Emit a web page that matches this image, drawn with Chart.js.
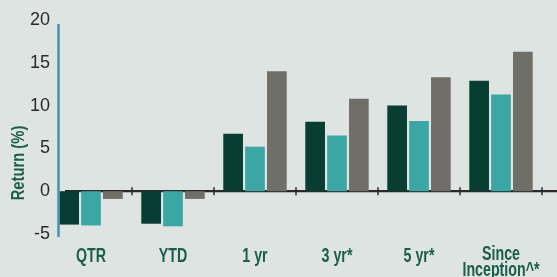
<!DOCTYPE html>
<html>
<head>
<meta charset="utf-8">
<script src="https://cdn.jsdelivr.net/npm/chart.js@4/dist/chart.umd.min.js"></script>
<style>
  html, body { margin: 0; padding: 0; background: #dee4e1; }
  #wrap { width: 557px; height: 277px; position: relative; }
</style>
</head>
<body>
<div id="wrap"><canvas id="chartReturns"></canvas></div>
<script>
// ---- data ----
var categories = ['QTR', 'YTD', '1 yr', '3 yr*', '5 yr*', ['Since', 'Inception^*']];
var fundReturns = [-3.9, -3.8, 6.7, 8.1, 10.0, 12.9];
var benchmarkReturns = [-4.0, -4.1, 5.2, 6.5, 8.2, 11.3];
var peerReturns = [-0.9, -0.9, 14.0, 10.8, 13.3, 16.3];
var yMin = -5, yMax = 20, yStep = 5;
var yTitle = 'Return (%)';

var SANS = "'Liberation Sans', Arial, sans-serif";
var GREEN_TEXT = '#1a5d4b';

// condensed text: the reference uses a narrow face, so squeeze horizontally
function condensedText(ctx, text, x, y, sx) {
    ctx.save();
    ctx.translate(x, y);
    ctx.scale(sx, 1);
    ctx.fillText(text, 0, 0);
    ctx.restore();
}

// axis line, zero line, category ticks, x labels and the y title
var axesPlugin = {
    id: 'axesPlugin',
    beforeDatasetsDraw: function(chart) {
        var ctx = chart.ctx, area = chart.chartArea;
        var x = chart.scales.x, y = chart.scales.y;
        var zeroY = y.getPixelForValue(0);
        ctx.save();
        ctx.strokeStyle = '#2a2a2a';
        ctx.lineWidth = 2.2;
        ctx.beginPath();
        ctx.moveTo(area.left + 15, zeroY);
        ctx.lineTo(chart.width, zeroY);
        ctx.stroke();
        // small ticks between categories
        ctx.lineWidth = 1.5;
        for (var i = 0; i < categories.length; i++) {
            var bx = i < categories.length - 1 ? (x.getPixelForTick(i) + x.getPixelForTick(i + 1)) / 2 : area.right;
            ctx.beginPath();
            ctx.moveTo(bx, zeroY - 4);
            ctx.lineTo(bx, zeroY + 4);
            ctx.stroke();
        }
        ctx.restore();
    },
    afterDraw: function(chart) {
        var ctx = chart.ctx, area = chart.chartArea, x = chart.scales.x;
        ctx.save();
        // blue y axis line
        ctx.strokeStyle = '#4f93ad';
        ctx.lineWidth = 2.6;
        ctx.beginPath();
        ctx.moveTo(area.left + 8.5, area.top + 4);
        ctx.lineTo(area.left + 8.5, area.bottom + 3);
        ctx.stroke();

        // category labels
        ctx.fillStyle = GREEN_TEXT;
        ctx.font = 'bold 19.5px ' + SANS;
        ctx.textAlign = 'center';
        ctx.textBaseline = 'alphabetic';
        categories.forEach(function(cat, i) {
            var lines = Array.isArray(cat) ? cat : [cat];
            var cx = x.getPixelForValue(i);
            var base = area.bottom + (lines.length > 1 ? 25.5 : 27.5);
            lines.forEach(function(line, j) {
                condensedText(ctx, line, cx, base + j * 16, 0.73);
            });
        });

        // y title
        ctx.translate(19, 163);
        ctx.rotate(-Math.PI / 2);
        ctx.font = 'bold 18px ' + SANS;
        ctx.textBaseline = 'middle';
        condensedText(ctx, yTitle, 0, 0, 0.82);
        ctx.restore();
    }
};

new Chart(document.getElementById('chartReturns'), {
    type: 'bar',
    data: {
        labels: categories,
        datasets: [
            { label: 'Fund', data: fundReturns, backgroundColor: '#083d32' },
            { label: 'Benchmark', data: benchmarkReturns, backgroundColor: '#3ca6a4' },
            { label: 'Peers', data: peerReturns, backgroundColor: '#6f6e69' }
        ]
    },
    options: {
        responsive: true, maintainAspectRatio: false, animation: false,
        layout: { padding: { top: 20, right: 15, left: 0, bottom: 0 } },
        datasets: { bar: { categoryPercentage: 0.8, barPercentage: 0.9 } },
        plugins: { legend: { display: false }, tooltip: { enabled: false } },
        scales: {
            x: {
                grid: { display: false }, border: { display: false },
                ticks: { display: false },
                afterFit: function(s) { s.height = 43; }
            },
            y: {
                min: yMin, max: yMax,
                grid: { display: false, drawTicks: false }, border: { display: false },
                ticks: { stepSize: yStep, color: '#2a2a2a', padding: 0,
                         font: { family: SANS, size: 18 } },
                afterFit: function(s) { s.width = 50; }
            }
        }
    },
    plugins: [axesPlugin]
});
</script>
</body>
</html>
